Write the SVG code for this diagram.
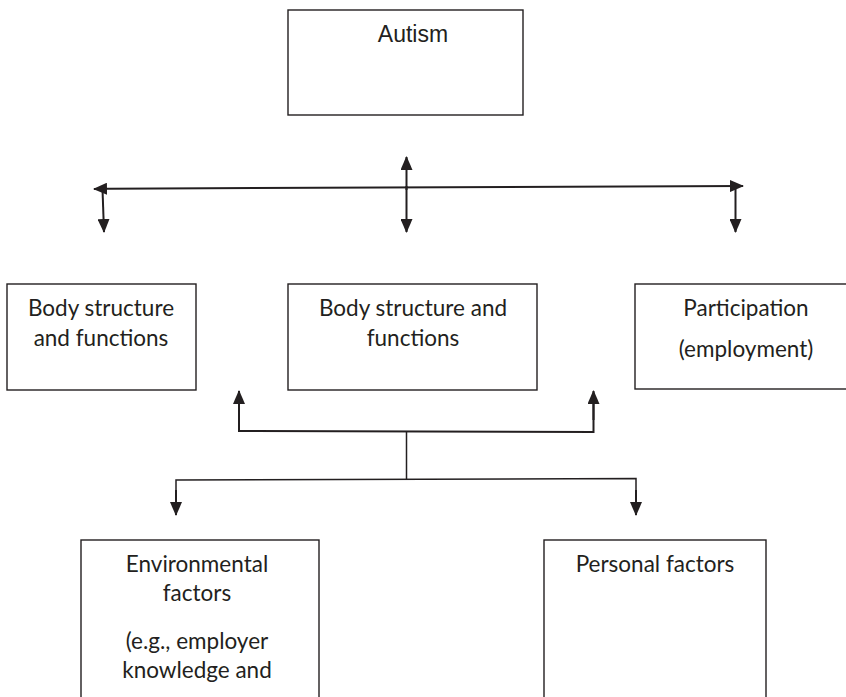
<svg xmlns="http://www.w3.org/2000/svg" width="846" height="697" viewBox="0 0 846 697">
<defs>
<style>
.box{fill:#fff;stroke:#231f20;stroke-width:1.4}
.ln{fill:none;stroke:#231f20;stroke-width:2}
.thin{fill:none;stroke:#231f20;stroke-width:1.5}
.ah{fill:#231f20}
.t{font-family:Lato,"Liberation Sans",sans-serif;font-size:22.5px;fill:#231f20;text-anchor:middle}
.ta{font-family:"Liberation Sans",Arial,sans-serif;font-size:23px;fill:#231f20;text-anchor:middle}
</style>
<marker id="arr" viewBox="0 0 14 12" refX="13" refY="6" markerWidth="14" markerHeight="12" markerUnits="userSpaceOnUse" orient="auto">
<path d="M0,0 L14,6 L0,12 Z" class="ah"/>
</marker>
</defs>
<rect width="846" height="697" fill="#fff"/>
<g id="autism">
<rect class="box" x="288" y="10" width="235" height="105"/>
<text class="ta" x="413" y="42">Autism</text>
</g>
<g id="body1">
<rect class="box" x="7" y="284" width="189" height="106"/>
<text class="t" x="101" y="316">Body structure</text>
<text class="t" x="101" y="346">and functions</text>
</g>
<g id="body2">
<rect class="box" x="288" y="284" width="249" height="106"/>
<text class="t" x="413" y="316">Body structure and</text>
<text class="t" x="413" y="346">functions</text>
</g>
<g id="participation">
<rect class="box" x="635" y="284" width="215" height="105"/>
<text class="t" x="746" y="316">Participation</text>
<text class="t" x="746" y="357">(employment)</text>
</g>
<g id="environmental">
<rect class="box" x="81" y="540" width="238" height="170"/>
<text class="t" x="197" y="572">Environmental</text>
<text class="t" x="197" y="601">factors</text>
<text class="t" x="197" y="649">(e.g., employer</text>
<text class="t" x="197" y="678">knowledge and</text>
</g>
<g id="personal">
<rect class="box" x="544" y="540" width="222" height="170"/>
<text class="t" x="655" y="572">Personal factors</text>
</g>
<g id="connectors">
<line class="ln" x1="108" y1="188.7" x2="94" y2="189" marker-end="url(#arr)"/>
<line class="ln" x1="108" y1="188.7" x2="743" y2="186" marker-end="url(#arr)"/>
<line class="ln" x1="102.5" y1="189" x2="104" y2="232" marker-end="url(#arr)"/>
<line class="ln" x1="406.5" y1="190" x2="406.5" y2="157" marker-end="url(#arr)"/>
<line class="ln" x1="406.5" y1="186" x2="406.5" y2="232" marker-end="url(#arr)"/>
<line class="ln" x1="735.5" y1="186" x2="735.5" y2="232" marker-end="url(#arr)"/>
<polyline class="ln" points="239,404 239,431 593.5,432 593.5,404"/>
<line class="ln" x1="239" y1="420" x2="239" y2="391" marker-end="url(#arr)"/>
<line class="ln" x1="593.5" y1="420" x2="593.5" y2="391" marker-end="url(#arr)"/>
<line class="thin" x1="406.5" y1="431" x2="406.5" y2="479"/>
<polyline class="thin" points="176,500 176,480 636,478.5 636,500"/>
<line class="ln" x1="176" y1="490" x2="176" y2="515" marker-end="url(#arr)"/>
<line class="ln" x1="636" y1="490" x2="636" y2="515" marker-end="url(#arr)"/>
</g>
</svg>
